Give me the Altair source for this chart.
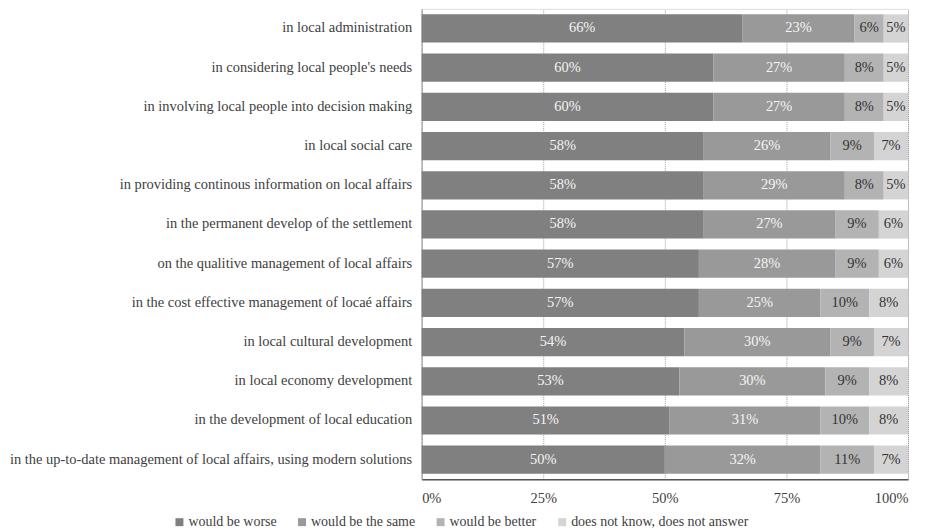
import altair as alt
import pandas as pd

categories = [
    "in local administration",
    "in considering local people's needs",
    "in involving local people into decision making",
    "in local social care",
    "in providing continous information on local affairs",
    "in the permanent develop of the settlement",
    "on the qualitive management of local affairs",
    "in the cost effective management of locaé affairs",
    "in local cultural development",
    "in local economy development",
    "in the development of local education",
    "in the up-to-date management of local affairs, using modern solutions",
]
series = ["would be worse", "would be the same", "would be better", "does not know, does not answer"]
worse = [66, 60, 60, 58, 58, 58, 57, 57, 54, 53, 51, 50]
same = [23, 27, 27, 26, 29, 27, 28, 25, 30, 30, 31, 32]
better = [6, 8, 8, 9, 8, 9, 9, 10, 9, 9, 10, 11]
dunno = [5, 5, 5, 7, 5, 6, 6, 8, 7, 8, 8, 7]
colors = ["#808080", "#999999", "#b3b3b3", "#d4d4d4"]

rows = []
for i, c in enumerate(categories):
    for k, vals in enumerate([worse, same, better, dunno]):
        rows.append({"category": c, "response": series[k], "value": vals[i], "order": k})
df = pd.DataFrame(rows)

FONT = "'Liberation Serif', 'DejaVu Serif', serif"

base = alt.Chart(df).transform_stack(
    stack="value", as_=["x0", "x1"], groupby=["category"],
    sort=[alt.SortField("order", order="ascending")]
).transform_calculate(mid="(datum.x0 + datum.x1) / 2")

y_enc = alt.Y("category:N", sort=categories, title=None,
              scale=alt.Scale(paddingInner=0.28, paddingOuter=0.14),
              axis=alt.Axis(labelFont=FONT, labelFontSize=14.5, labelColor="#404040",
                            labelPadding=10, ticks=False, domainColor="#a0a0a0",
                            labelLimit=600))

bars = base.mark_bar().encode(
    y=y_enc,
    x=alt.X("x0:Q", title=None, scale=alt.Scale(domain=[0, 100], nice=False),
            axis=alt.Axis(values=[0, 25, 50, 75, 100], labelExpr="datum.value + '%'",
                          labelFont=FONT, labelFontSize=14.5, labelColor="#404040",
                          ticks=False, labelPadding=12, domainColor="#555555", domainWidth=1.5,
                          grid=True, gridDash=[1, 1], gridColor="#a0a0a0")),
    x2="x1:Q",
    color=alt.Color("response:N", sort=series,
                    scale=alt.Scale(domain=series, range=colors),
                    legend=alt.Legend(title=None, orient="none", direction="horizontal",
                                      legendX=-250, legendY=508,
                                      symbolType="square", symbolSize=64, symbolStrokeWidth=0,
                                      labelFont=FONT, labelFontSize=14, labelColor="#404040",
                                      labelLimit=400,
                                      columnPadding=18, symbolOffset=0, labelOffset=2)),
    order=alt.Order("order:Q"),
)

text = base.mark_text(font=FONT, fontSize=14.5).encode(
    y=alt.Y("category:N", sort=categories),
    x=alt.X("mid:Q"),
    text=alt.Text("label:N"),
    color=alt.condition("datum.order < 2", alt.value("#f4f4f4"), alt.value("#333333")),
).transform_calculate(label="datum.value + '%'")

chart = (bars + text).properties(width=488, height=472).configure_view(
    stroke="#c8c8c8"
).configure(padding={"left": 0, "top": 0, "right": 10, "bottom": 0})

chart.save("out.html", embed_options={"renderer": "svg", "actions": False})
